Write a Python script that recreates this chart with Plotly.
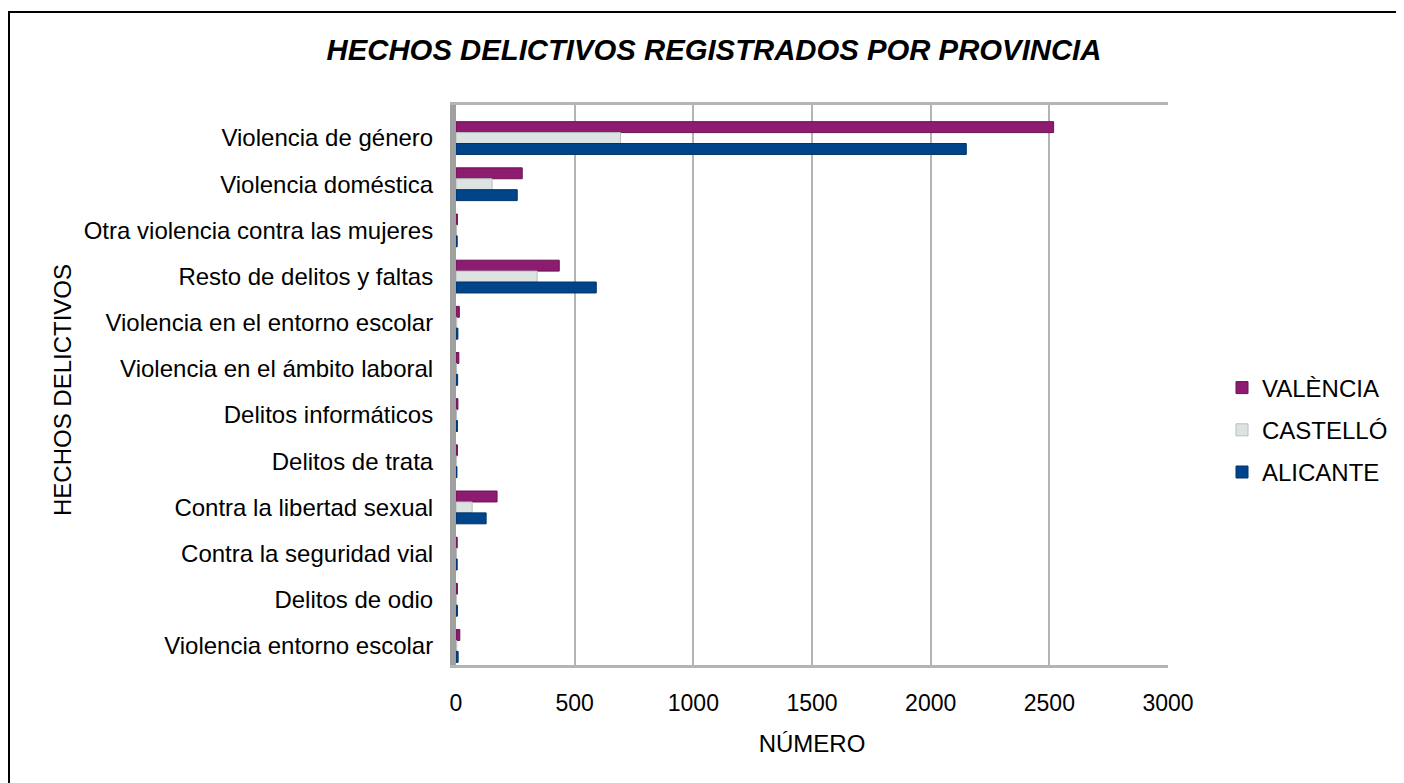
import plotly.graph_objects as go

categories = [
    "Violencia de género",
    "Violencia doméstica",
    "Otra violencia contra las mujeres",
    "Resto de delitos y faltas",
    "Violencia en el entorno escolar",
    "Violencia en el ámbito laboral",
    "Delitos informáticos",
    "Delitos de trata",
    "Contra la libertad sexual",
    "Contra la seguridad vial",
    "Delitos de odio",
    "Violencia entorno escolar",
]
valencia = [2518, 279, 6, 435, 14, 12, 8, 6, 173, 5, 6, 16]
castello = [693, 152, 2, 342, 3, 2, 2, 1, 68, 2, 1, 3]
alicante = [2150, 258, 5, 591, 8, 7, 6, 4, 127, 5, 6, 9]

series = [
    ("VALÈNCIA", valencia, "#8d1b70", "#6a1354"),
    ("CASTELLÓ", castello, "#dde3e2", "#b8c0bf"),
    ("ALICANTE", alicante, "#00458a", "#00336a"),
]

fig = go.Figure()
for name, vals, col, lc in series:
    fig.add_trace(go.Bar(
        y=categories, x=vals, name=name, orientation="h", legendgroup=name,
        marker=dict(color=col, line=dict(color=lc, width=1)),
    ))

FONT = "Liberation Sans, Arial, sans-serif"
OFF = 8  # page body margin
# target screen positions of the plot area
SL, SR, ST, SB = 456, 1168, 105, 665
L, R, T, B = SL - OFF, SR - OFF, ST - OFF, SB - OFF
W, H = 1396, 775
def px(x):
    return (x - SL) / (SR - SL)
def py(y):
    return (SB - y) / (SB - ST)

GRID = "#b4b4b4"
fig.update_layout(
    width=W, height=H,
    margin=dict(l=L, r=W - R, t=T, b=H - B, autoexpand=False),
    paper_bgcolor="white", plot_bgcolor="white",
    barmode="group", bargap=0.29, bargroupgap=0,
    font=dict(family=FONT, size=24, color="black"),
    title=dict(text="<b><i>HECHOS DELICTIVOS REGISTRADOS POR PROVINCIA</i></b>",
               x=px(714), xref="paper", xanchor="center", y=1 - (50 - OFF) / H, yanchor="middle",
               font=dict(family=FONT, size=29.3, color="black")),
    legend=dict(x=px(1222), y=py(430), xanchor="left", yanchor="middle",
                font=dict(family=FONT, size=24), itemwidth=30, tracegroupgap=8,
                traceorder="grouped"),
    xaxis=dict(range=[0, 3000], dtick=500, showgrid=True, gridcolor=GRID, gridwidth=2,
               zeroline=False, showline=True, linecolor=GRID, linewidth=3, mirror=True,
               ticks="", ticklabelstandoff=15, tickfont=dict(size=23),
               title=dict(text="NÚMERO", standoff=21, font=dict(size=24))),
    yaxis=dict(range=[11.413, -0.716], showline=True, linecolor="#a0a0a0", linewidth=6,
               ticks="", ticklabelstandoff=12, showgrid=False),
    annotations=[dict(text="HECHOS DELICTIVOS", textangle=-90, xref="paper", yref="paper",
                      x=px(62), y=py(390), xanchor="center", yanchor="middle",
                      showarrow=False, font=dict(family=FONT, size=24, color="black"))],
    shapes=[dict(type="rect", xref="paper", yref="paper",
                 x0=px(9), x1=px(1420), y0=py(800), y1=py(12),
                 line=dict(color="black", width=2), fillcolor="rgba(0,0,0,0)", layer="below")],
)
fig.write_html("out.html")
